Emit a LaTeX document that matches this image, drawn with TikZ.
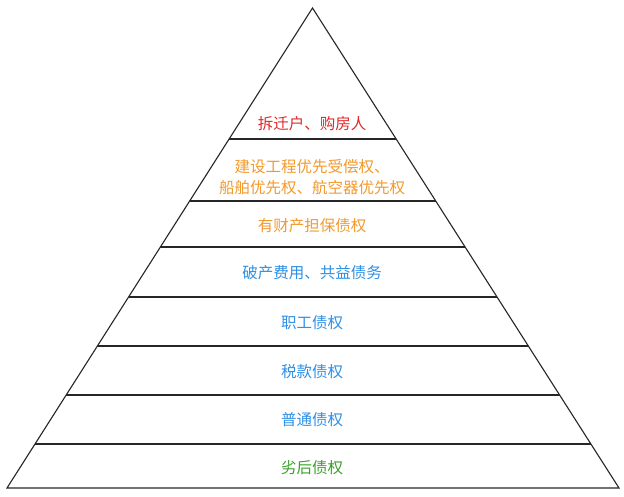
\documentclass[tikz,border=0pt]{standalone}
\usepackage{fontspec}
\newfontfamily\cjk{Noto Sans CJK SC}
\usetikzlibrary{calc}
\definecolor{tred}{HTML}{E0282A}
\definecolor{torange}{HTML}{F39A2C}
\definecolor{tblue}{HTML}{2E90E6}
\definecolor{tgreen}{HTML}{3AA02A}
\tikzset{
  edge/.style={draw=black!85, line width=1.1pt},
  lvl/.style={font=\cjk\fontsize{15.5}{21}\selectfont, align=center, inner sep=0pt}
}
\begin{document}
\begin{tikzpicture}[x=1pt,y=-1pt]
\useasboundingbox[fill=white] (0,0) rectangle (624,496);
\coordinate (A) at (312.5,8);
\coordinate (L) at (7,488);
\coordinate (R) at (619,488);
\draw[edge, line join=miter] (A) -- (L) -- (R) -- cycle;
\foreach \n/\t in {1/0.2729,2/0.4021,3/0.4979,4/0.6021,5/0.7042,6/0.8063,7/0.9083}{
  \coordinate (l\n) at ($(A)!\t!(L)$);
  \coordinate (r\n) at ($(A)!\t!(R)$);
  \draw[edge] (l\n) -- (r\n);
}
\node[lvl, text=tred] (t1) at (312,124) {拆迁户、购房人};
\node[lvl, text=torange] (t2) at (312,177.5) {建设工程优先受偿权、\\船舶优先权、航空器优先权};
\node[lvl, text=torange] (t3) at (312,226) {有财产担保债权};
\node[lvl, text=tblue] (t4) at (312,273) {破产费用、共益债务};
\node[lvl, text=tblue] (t5) at (312,323) {职工债权};
\node[lvl, text=tblue] (t6) at (312,372) {税款债权};
\node[lvl, text=tblue] (t7) at (312,420) {普通债权};
\node[lvl, text=tgreen] (t8) at (312,468) {劣后债权};
\end{tikzpicture}
\end{document}
